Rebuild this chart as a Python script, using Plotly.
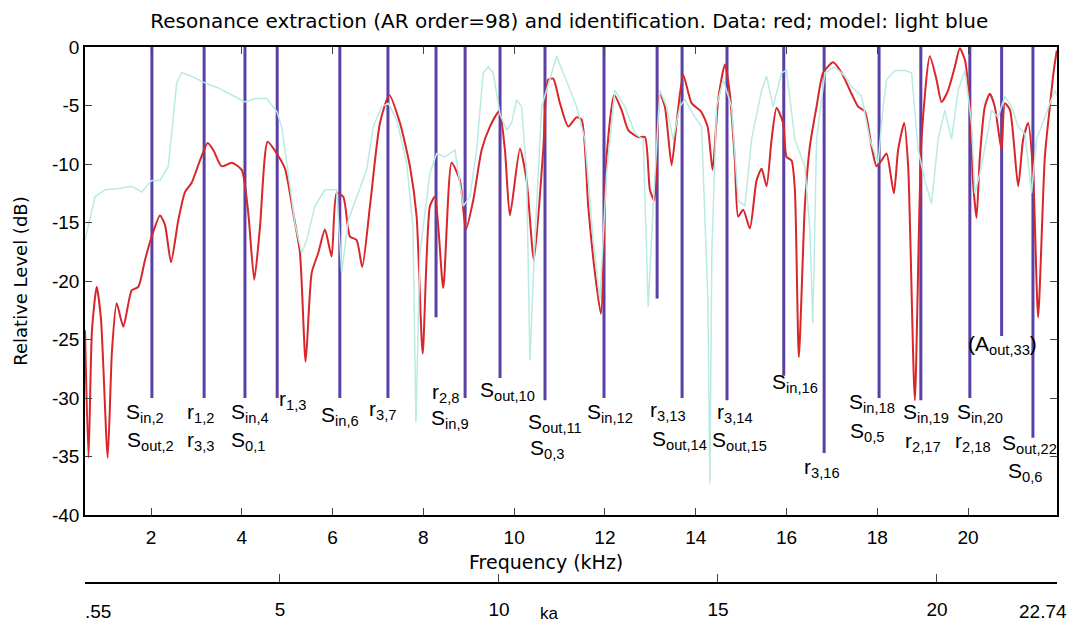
import plotly.graph_objects as go

# ---------------- data ----------------
title_text = "Resonance extraction (AR order=98) and identification. Data: red; model: light blue"

# measured data (red)
data_freq = [0.546, 0.623, 0.700, 0.804, 0.899, 1.046, 1.141, 1.244, 1.390, 1.575, 1.720, 1.868, 2.015,
             2.198, 2.308, 2.441, 2.601, 2.749, 2.896, 3.079, 3.249, 3.372, 3.557, 3.778, 3.998, 4.143,
             4.275, 4.401, 4.570, 4.769, 4.952, 5.134, 5.282, 5.407, 5.540, 5.685, 5.833, 5.980, 6.090,
             6.236, 6.383, 6.531, 6.654, 6.824, 7.044, 7.249, 7.485, 7.705, 7.852, 7.985, 8.145, 8.256,
             8.438, 8.623, 8.806, 8.938, 9.099, 9.284, 9.467, 9.672, 9.797, 9.907, 10.128, 10.275, 10.436,
             10.641, 10.751, 10.861, 11.009, 11.192, 11.377, 11.487, 11.632, 11.780, 11.912, 12.037, 12.205,
             12.368, 12.513, 12.733, 12.881, 12.991, 13.086, 13.211, 13.322, 13.469, 13.579, 13.725, 13.910,
             14.115, 14.262, 14.372, 14.496, 14.643, 14.753, 14.863, 14.936, 15.046, 15.194, 15.341, 15.452,
             15.562, 15.672, 15.782, 15.927, 16.002, 16.112, 16.185, 16.273, 16.405, 16.515, 16.663, 16.808,
             17.029, 17.214, 17.434, 17.579, 17.727, 17.874, 17.985, 18.095, 18.205, 18.366, 18.460, 18.593,
             18.681, 18.828, 18.975, 19.158, 19.306, 19.416, 19.562, 19.709, 19.819, 19.930, 20.040, 20.112,
             20.187, 20.260, 20.370, 20.480, 20.590, 20.738, 20.811, 20.925, 21.104, 21.214, 21.324, 21.434,
             21.544, 21.692, 21.802, 21.890, 21.956]
data_db = [-24.2, -35.1, -24.2, -20.5, -23.3, -35.1, -25.9, -21.9, -23.9, -20.8, -20.5, -18.2, -16.2,
           -14.4, -15.2, -18.4, -14.8, -12.4, -11.6, -9.7, -8.2, -8.8, -10.2, -9.9, -10.5, -14.2,
           -19.9, -15.4, -8.1, -9.1, -10.4, -14.2, -17.6, -26.9, -19.3, -17.6, -15.6, -17.9, -12.5,
           -12.8, -16.2, -16.5, -18.8, -13.6, -6.5, -4.1, -6.5, -10.2, -14.5, -26.2, -13.6, -12.8,
           -20.6, -9.9, -11.4, -15.6, -13.1, -8.8, -6.8, -5.5, -8.8, -14.4, -8.7, -11.4, -18.2,
           -8.8, -2.8, -2.7, -4.8, -6.8, -6.0, -6.2, -13.6, -19.3, -22.8, -9.4, -4.1,
           -5.4, -7.1, -7.7, -7.7, -12.2, -13.1, -4.0, -5.1, -10.1, -6.5, -2.4, -4.8,
           -5.5, -6.8, -10.5, -4.5, -1.5, -4.0, -9.7, -14.5, -13.9, -15.5, -11.4, -10.4,
           -11.9, -7.9, -5.2, -6.5, -9.4, -9.7, -12.2, -26.5, -13.6, -8.5, -5.1, -2.2,
           -1.3, -2.2, -4.0, -5.1, -5.5, -8.5, -10.2, -9.7, -9.1, -12.5, -8.8, -6.5,
           -10.2, -30.2, -7.9, -0.8, -2.8, -4.7, -3.7, -1.7, -0.1, -1.1, -5.1, -11.6,
           -14.6, -9.4, -5.1, -4.0, -5.1, -8.8, -4.8, -5.4, -11.9, -7.9, -6.5, -10.8,
           -23.1, -9.4, -5.1, -2.0, -0.3]

# AR model (light blue)
model_freq = [0.546, 0.767, 0.987, 1.280, 1.575, 1.795, 2.015, 2.198, 2.381, 2.469, 2.566, 2.676, 2.896,
              3.152, 3.482, 3.778, 4.070, 4.291, 4.548, 4.769, 4.879, 5.024, 5.172, 5.319, 5.430, 5.612,
              5.833, 6.090, 6.200, 6.346, 6.531, 6.751, 6.896, 7.081, 7.227, 7.412, 7.632, 7.771, 7.837,
              7.925, 8.145, 8.293, 8.476, 8.696, 8.879, 9.026, 9.174, 9.319, 9.430, 9.540, 9.687, 9.835,
              9.945, 10.055, 10.165, 10.275, 10.348, 10.458, 10.606, 10.716, 10.936, 11.081, 11.377, 11.559,
              11.742, 11.890, 12.037, 12.220, 12.441, 12.661, 12.844, 12.954, 13.064, 13.211, 13.359, 13.504,
              13.652, 13.762, 13.982, 14.130, 14.269, 14.313, 14.357, 14.460, 14.606, 14.791, 14.936, 15.084,
              15.231, 15.452, 15.562, 15.707, 15.892, 16.002, 16.185, 16.405, 16.515, 16.581, 16.663, 16.846,
              17.066, 17.286, 17.434, 17.654, 17.837, 18.020, 18.130, 18.205, 18.388, 18.608, 18.756, 18.901,
              19.048, 19.196, 19.341, 19.489, 19.637, 19.782, 19.930, 20.077, 20.150, 20.260, 20.408, 20.518,
              20.663, 20.811, 20.958, 21.104, 21.251, 21.399, 21.509, 21.692, 21.912, 21.956]
model_db = [-16.5, -12.8, -12.2, -12.1, -11.9, -12.4, -11.4, -11.4, -10.2, -6.8, -3.1, -2.2, -2.5,
            -3.0, -3.5, -4.1, -4.7, -4.4, -4.4, -5.5, -6.8, -10.8, -15.1, -17.6, -16.5, -13.6,
            -12.2, -12.2, -19.3, -14.8, -12.8, -10.5, -6.8, -5.1, -4.8, -6.2, -9.9, -15.4, -32.1,
            -17.6, -10.8, -9.1, -9.4, -8.8, -13.6, -12.8, -8.8, -2.2, -1.7, -2.2, -5.7, -7.1,
            -6.5, -4.5, -5.1, -10.8, -26.8, -16.5, -5.1, -3.7, -0.8, -2.2, -5.1, -7.9,
            -16.5, -21.6, -10.8, -3.7, -5.1, -7.4, -7.9, -22.2, -13.6, -3.7, -5.1, -7.9,
            -5.1, -4.5, -6.0, -6.8, -21.6, -37.3, -17.4, -5.1, -2.8, -5.1, -13.1, -13.6,
            -7.9, -3.7, -2.5, -5.1, -2.2, -2.0, -7.9, -10.2, -15.6, -23.6, -7.9, -2.2,
            -1.7, -2.5, -3.4, -4.2, -7.9, -9.9, -5.1, -2.8, -2.0, -2.0, -2.2, -8.8,
            -11.4, -13.4, -7.9, -5.4, -7.9, -3.7, -2.0, -6.5, -12.5, -10.8, -7.9, -5.4,
            -6.0, -4.2, -5.1, -6.8, -7.4, -12.5, -7.9, -6.0, -3.7, -4.2]

# identified resonances (purple lines): frequency and lower end of line
res_freq = [2.02, 3.17, 4.07, 4.78, 6.16, 7.22, 8.28, 8.92, 9.69, 10.68, 11.98, 13.15, 13.70, 14.69,
            15.94, 16.83, 18.04, 18.96, 20.04, 20.74, 21.43]
res_depth = [-30.0, -30.0, -30.0, -30.0, -30.0, -30.0, -23.1, -30.0, -28.3, -30.2, -30.0, -21.5, -30.0,
             -30.2, -28.1, -34.7, -30.0, -30.2, -30.0, -24.7, -33.4]

# resonance labels
label_text = ["S<sub>in,2</sub>", "S<sub>out,2</sub>", "r<sub>1,2</sub>", "r<sub>3,3</sub>",
              "S<sub>in,4</sub>", "S<sub>0,1</sub>", "r<sub>1,3</sub>", "S<sub>in,6</sub>",
              "r<sub>3,7</sub>", "r<sub>2,8</sub>", "S<sub>in,9</sub>", "S<sub>out,10</sub>",
              "S<sub>out,11</sub>", "S<sub>0,3</sub>", "S<sub>in,12</sub>", "r<sub>3,13</sub>",
              "S<sub>out,14</sub>", "r<sub>3,14</sub>", "S<sub>out,15</sub>", "S<sub>in,16</sub>",
              "r<sub>3,16</sub>", "S<sub>in,18</sub>", "S<sub>0,5</sub>", "S<sub>in,19</sub>",
              "r<sub>2,17</sub>", "S<sub>in,20</sub>", "r<sub>2,18</sub>", "(A<sub>out,33</sub>)",
              "S<sub>out,22</sub>", "S<sub>0,6</sub>"]
label_freq = [1.87, 1.98, 3.08, 3.08, 4.18, 4.14, 5.11, 6.16, 7.11, 8.48, 8.59, 9.86,
              10.90, 10.72, 12.11, 13.39, 13.65, 14.86, 14.97, 16.19, 16.78, 17.88, 17.77, 19.07,
              19.00, 20.26, 20.11, 20.77, 21.36, 21.25]
label_db = [-31.3, -33.7, -31.3, -33.7, -31.3, -33.7, -30.2, -31.5, -31.0, -29.6, -31.8, -29.4,
            -32.1, -34.4, -31.3, -31.1, -33.6, -31.3, -33.7, -28.7, -36.0, -30.4, -32.9, -31.3,
            -33.8, -31.3, -33.8, -25.5, -33.9, -36.3]

freq_ticks = [2, 4, 6, 8, 10, 12, 14, 16, 18, 20]
db_ticks = [0, -5, -10, -15, -20, -25, -30, -35, -40]
db_ticktext = ["0", "-5", "-10", "-15", "-20", "-25", "-30", "-35", "-40"]
freq_range = [0.546, 21.96]
ka_range = [0.55, 22.74]
ka_ticks = [5, 10, 15, 20]
ka_end_labels = [".55", "22.74"]
x_title = "Frequency (kHz)"
y_title = "Relative Level (dB)"
ka_title = "ka"

# ---------------- figure ----------------
FONT = "Liberation Sans, Arial, sans-serif"
WIDE = "DejaVu Sans, Liberation Sans, sans-serif"
PURPLE = "#5a3fa6"
RED = "#d9262b"
CYAN = "#b8ebe3"

line_x, line_y = [], []
for f, d in zip(res_freq, res_depth):
    line_x += [f, f, None]
    line_y += [0, d, None]

fig = go.Figure()
fig.add_trace(go.Scatter(x=line_x, y=line_y, mode="lines",
                         line=dict(color=PURPLE, width=3), hoverinfo="skip", showlegend=False))
fig.add_trace(go.Scatter(x=data_freq, y=data_db, mode="lines",
                         line=dict(color=RED, width=2, shape="spline", smoothing=0.6),
                         showlegend=False))
fig.add_trace(go.Scatter(x=model_freq, y=model_db, mode="lines",
                         line=dict(color=CYAN, width=1.5), showlegend=False))
# invisible trace so that the ka axis is drawn
fig.add_trace(go.Scatter(x=ka_range, y=[None, None], xaxis="x2", mode="lines",
                         showlegend=False, hoverinfo="skip"))

for t, f, d in zip(label_text, label_freq, label_db):
    fig.add_annotation(x=f, y=d, text=t, showarrow=False, xref="x", yref="y",
                       font=dict(family=FONT, size=21, color="black"))

# frequency axis title (slightly left of centre, as in the original)
fig.add_annotation(x=10.7, y=0.0585, xref="x", yref="paper", text=x_title,
                   showarrow=False, xanchor="center", yanchor="middle",
                   font=dict(family=WIDE, size=19, color="black"))

# ka axis end labels and title
fig.add_annotation(x=ka_range[0], y=-0.009, xref="x2", yref="paper", text=ka_end_labels[0],
                   showarrow=False, xanchor="left", yanchor="top", xshift=-2,
                   font=dict(family=FONT, size=19, color="black"))
fig.add_annotation(x=ka_range[1], y=-0.009, xref="x2", yref="paper", text=ka_end_labels[1],
                   showarrow=False, xanchor="right", yanchor="top", xshift=12,
                   font=dict(family=FONT, size=19, color="black"))
fig.add_annotation(x=11.15, y=-0.014, xref="x2", yref="paper", text=ka_title,
                   showarrow=False, xanchor="center", yanchor="top",
                   font=dict(family=FONT, size=17, color="black"))

fig.update_layout(
    width=1070, height=624,
    margin=dict(l=85, r=13, t=47, b=30, autoexpand=False),
    paper_bgcolor="white", plot_bgcolor="white",
    font=dict(family=FONT, size=19, color="black"),
    title=dict(text=title_text, x=0.532, xanchor="center", y=0.967, yanchor="middle",
               font=dict(family=WIDE, size=20, color="black")),
    xaxis=dict(range=freq_range, tickvals=freq_ticks, ticks="inside", ticklen=7,
               showline=True, linecolor="black", linewidth=1.5, mirror="ticks",
               showgrid=False, zeroline=False, ticklabelstandoff=4, automargin=False,
               tickfont=dict(size=19), anchor="y"),
    yaxis=dict(range=[-40, 0], tickvals=db_ticks, ticktext=db_ticktext, ticks="inside", ticklen=7,
               showline=True, linecolor="black", linewidth=1.5, mirror="ticks",
               showgrid=False, zeroline=False, domain=[0.1444, 1], automargin=False,
               title=dict(text=y_title, standoff=20, font=dict(family=WIDE, size=18)),
               tickfont=dict(size=19)),
    xaxis2=dict(range=ka_range, overlaying="x", side="bottom", anchor="free", position=0.02,
                tickvals=ka_ticks, ticks="inside", ticklen=8, showline=True, linecolor="black",
                linewidth=1.5, showgrid=False, zeroline=False, tickfont=dict(size=19),
                ticklabelstandoff=9, automargin=False),
)

fig.write_html("out.html")
